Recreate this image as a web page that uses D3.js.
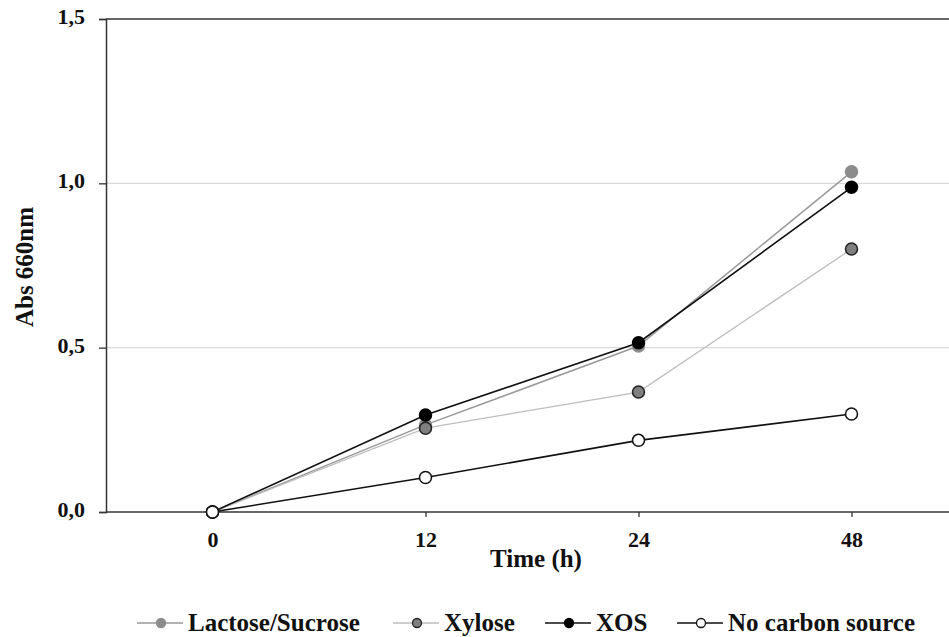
<!DOCTYPE html>
<html>
<head>
<meta charset="utf-8">
<script src="https://cdn.jsdelivr.net/npm/d3@7"></script>
<style>
  body { margin: 0; background: #fff; }
  svg text { font-family: "Times New Roman", Tinos, "Liberation Serif", serif; font-weight: bold; }
</style>
</head>
<body>
<div id="container"></div>
<script>
let w = 949;
let h = 637;
let serifFont = "\"Times New Roman\", Tinos, \"Liberation Serif\", serif";

// DATA
let times = ["0", "12", "24", "48"];
let lactose = [0, 0.265, 0.505, 1.035];
let xylose = [0, 0.255, 0.365, 0.80];
let xos = [0, 0.295, 0.515, 0.988];
let noCarbon = [0, 0.105, 0.218, 0.298];
let yTicks = [0, 0.5, 1.0, 1.5];

let series = [
  {name: "Lactose/Sucrose", values: lactose, line: "#999999", lw: 1.5, fill: "#8c8c8c", stroke: "#8c8c8c"},
  {name: "Xylose", values: xylose, line: "#bdbdbd", lw: 1.3, fill: "#7f7f7f", stroke: "#222"},
  {name: "XOS", values: xos, line: "#111", lw: 1.6, fill: "#000", stroke: "#000"},
  {name: "No carbon source", values: noCarbon, line: "#111", lw: 1.6, fill: "#fff", stroke: "#111"}
];

let viz = d3.select("#container").append("svg")
    .attr("width", w)
    .attr("height", h)
    .attr("font-family", serifFont)
    .style("background-color", "white");

// SCALES
let pLeft = 106, pRight = 958, pTop = 19, pBottom = 512;
let xScale = d3.scalePoint().domain(times).range([pLeft, pRight]).padding(0.5);
let yScale = d3.scaleLinear().domain([0, 1.5]).range([pBottom, pTop]);
let fmt = d => d3.format(".1f")(d).replace(".", ",");

// gridlines
viz.selectAll(".grid").data([0.5, 1.0]).enter()
  .append("line")
    .attr("x1", pLeft).attr("x2", w)
    .attr("y1", d => yScale(d)).attr("y2", d => yScale(d))
    .attr("stroke", "#d9d9d9").attr("stroke-width", 1.2);

// top line
viz.append("line")
  .attr("x1", pLeft).attr("x2", w)
  .attr("y1", yScale(1.5)).attr("y2", yScale(1.5))
  .attr("stroke", "#333").attr("stroke-width", 1.5);

// y axis
let yAxis = d3.axisLeft(yScale).tickValues(yTicks).tickFormat(fmt).tickSize(7).tickPadding(14);
let yG = viz.append("g").attr("transform", `translate(${pLeft},0)`).call(yAxis)
  .attr("font-family", null).attr("font-size", null);
yG.select(".domain").attr("stroke", "#333").attr("stroke-width", 1.5);
yG.selectAll(".tick line").attr("stroke", "#333").attr("stroke-width", 1.3);
yG.selectAll(".tick text")
  .style("font-family", serifFont).style("font-weight", "bold").style("font-size", "22px")
  .attr("fill", "#111").attr("dy", "0.2em");

// x axis
let xAxis = d3.axisBottom(xScale).tickSize(5).tickPadding(14);
let xG = viz.append("g").attr("transform", `translate(0,${pBottom})`).call(xAxis)
  .attr("font-family", null).attr("font-size", null);
xG.select(".domain").attr("d", `M${pLeft},0H${w}`).attr("stroke", "#333").attr("stroke-width", 1.5);
xG.selectAll(".tick line").attr("stroke", "#333").attr("stroke-width", 1.3);
xG.selectAll(".tick text")
  .style("font-family", serifFont).style("font-weight", "bold").style("font-size", "22px")
  .attr("fill", "#111");

// axis titles
viz.append("text")
  .attr("x", 536).attr("y", 567)
  .attr("text-anchor", "middle")
  .style("font-family", serifFont).style("font-weight", "bold").style("font-size", "25px")
  .attr("fill", "#111")
  .text("Time (h)");

viz.append("text")
  .attr("transform", "translate(33,267) rotate(-90)")
  .attr("text-anchor", "middle")
  .style("font-family", serifFont).style("font-weight", "bold").style("font-size", "25px")
  .attr("fill", "#111")
  .text("Abs 660nm");

// LINES
let lineMaker = d3.line()
  .x((d, i) => xScale(times[i]))
  .y(d => yScale(d));

series.forEach(function(s) {
  viz.append("path")
    .attr("d", lineMaker(s.values))
    .attr("fill", "none")
    .attr("stroke", s.line)
    .attr("stroke-width", s.lw);
});

series.forEach(function(s) {
  viz.selectAll(null).data(s.values).enter()
    .append("circle")
      .attr("cx", (d, i) => xScale(times[i]))
      .attr("cy", d => yScale(d))
      .attr("r", 6)
      .attr("fill", s.fill)
      .attr("stroke", s.stroke)
      .attr("stroke-width", 1.5);
});

// LEGEND
let legendX = [137, 393, 545, 677];
let legendY = 623;
series.forEach(function(s, i) {
  let g = viz.append("g").attr("transform", `translate(${legendX[i]},${legendY})`);
  g.append("line").attr("x1", 0).attr("x2", 46).attr("y1", 0).attr("y2", 0)
    .attr("stroke", s.line).attr("stroke-width", s.lw);
  g.append("circle").attr("cx", 24).attr("cy", 0).attr("r", 4.5)
    .attr("fill", s.fill).attr("stroke", s.stroke).attr("stroke-width", 1.3);
  g.append("text").attr("x", 51).attr("y", 8)
    .style("font-family", serifFont).style("font-weight", "bold").style("font-size", "25px")
    .attr("fill", "#111")
    .text(s.name);
});
</script>
</body>
</html>
